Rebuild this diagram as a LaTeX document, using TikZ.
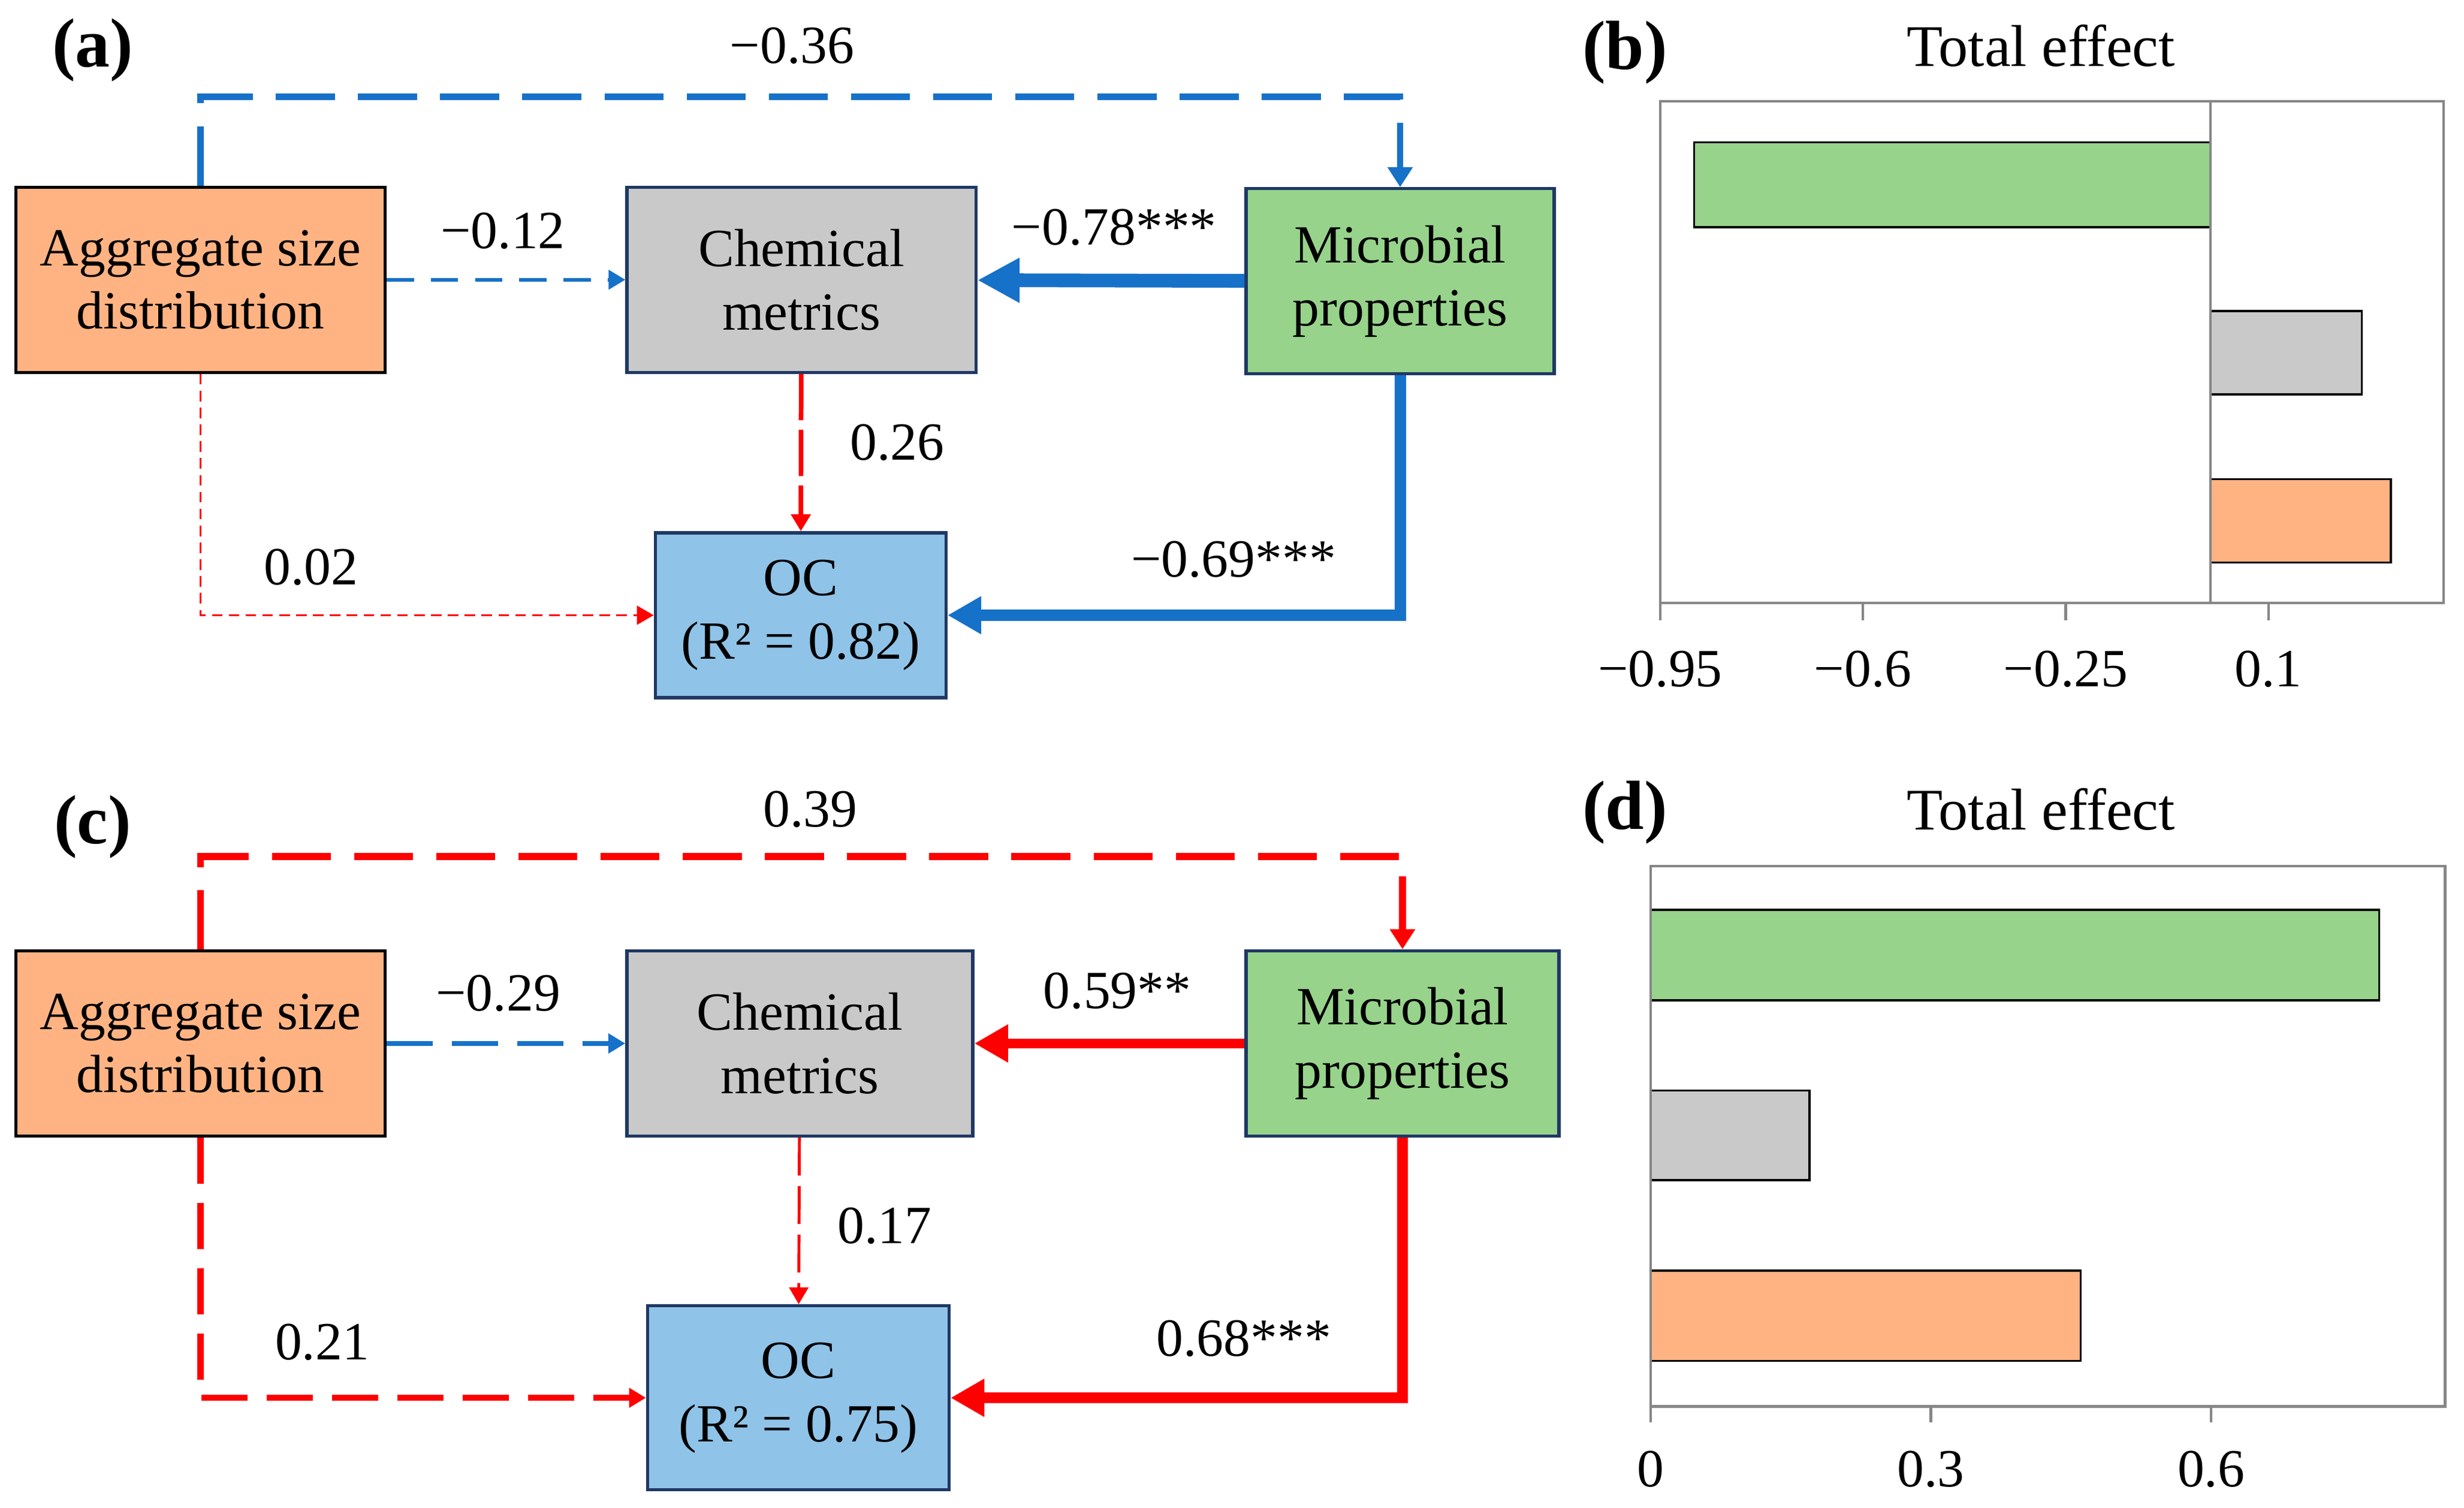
\documentclass[tikz,border=0pt]{standalone}
\usepackage{fontspec}
\setmainfont{Liberation Serif}
\usetikzlibrary{arrows.meta}
\definecolor{pathblue}{RGB}{22,113,200}
\definecolor{pathred}{RGB}{255,0,0}
\definecolor{aggfill}{RGB}{255,179,130}
\definecolor{chemfill}{RGB}{201,201,201}
\definecolor{micfill}{RGB}{151,211,139}
\definecolor{ocfill}{RGB}{143,195,232}
\definecolor{boxline}{RGB}{31,56,100}
\definecolor{framegray}{RGB}{134,134,134}
\begin{document}
\begin{tikzpicture}[x=0.02622cm, y=-0.02622cm,
    every node/.style={font=\fontsize{25.5}{30}\selectfont},
    box/.style={draw=boxline, line width=1.5pt, inner sep=0pt, align=center},
    panel/.style={font=\fontsize{33}{36}\selectfont\bfseries},
    title/.style={font=\fontsize{28}{32}\selectfont},
    longdash/.style={dash pattern=on 28pt off 11pt},
    middash/.style={dash pattern=on 22pt off 9pt},
    shortdash/.style={dash pattern=on 13pt off 8pt},
    tinydash/.style={dash pattern=on 5pt off 3pt},
    smalltip/.style={-{Triangle[length=8pt,width=9pt]}},
    toptip/.style={-{Triangle[length=9.5pt,width=11.5pt]}},
    bigtip/.style={-{Triangle[length=16pt,width=17pt]}},
    hugetip/.style={-{Triangle[length=20pt,width=20pt]}},
    bar/.style={draw=black, line width=1pt},
    axis/.style={draw=framegray, line width=1.2pt}]
    \useasboundingbox (0,0) rectangle (1568,959.3);

    % Panel (a): path model
    \node[panel] (pa) at (59,32) {(a)};
    \node[box, draw=black, fill=aggfill, minimum width=6.16cm, minimum height=3.09cm] (agga) at (127.5,178) {Aggregate size\\distribution};
    \node[box, fill=chemfill, minimum width=5.82cm, minimum height=3.09cm] (chema) at (510,178) {Chemical\\metrics};
    \node[box, fill=micfill, minimum width=5.14cm, minimum height=3.09cm] (mica) at (891,179) {Microbial\\properties};
    \node[box, fill=ocfill, minimum width=4.85cm, minimum height=2.75cm] (oca) at (509.5,391.5) {OC\\(R² = 0.82)};

    \coordinate (topa) at (510,61.5);
    \draw[pathblue, line width=3pt, longdash, toptip] (agga.north) |- (topa) -| (mica.north);
    \draw[pathblue, line width=1.8pt, shortdash, smalltip] (agga) -- (chema);
    \draw[pathblue, line width=6.5pt, hugetip] (mica) -- (chema);
    \draw[pathred, line width=2.2pt, dash pattern=on 22pt off 4.5pt, smalltip] (chema) -- (oca);
    \draw[pathred, line width=1pt, tinydash, smalltip] (agga.south) |- (oca.west);
    \draw[pathblue, line width=5.4pt, bigtip] (mica.south) |- (oca.east);

    % Path coefficients (a)
    \node (la1) at (504,29) {−0.36};
    \node (la2) at (320,147) {−0.12};
    \node (la3) at (709,144.5) {−0.78***};
    \node (la4) at (571,281.7) {0.26};
    \node (la5) at (198,361) {0.02};
    \node (la6) at (785,356) {−0.69***};

    % Panel (b): total effects
    \node[panel] (pb) at (1034,33.5) {(b)};
    \node[title] (tb) at (1298.7,29) {Total effect};
    \draw[bar, fill=micfill] (1406.7,90.5) rectangle (1078,144.6);
    \draw[bar, fill=chemfill] (1406.7,198) rectangle (1503,251);
    \draw[bar, fill=aggfill] (1406.7,305) rectangle (1521.5,358);
    \draw[axis] (1056.5,64.5) rectangle (1555,383.7);
    \draw[axis] (1406.7,64.5) -- (1406.7,383.7);
    \foreach \v/\t [count=\i] in {-0.95/−0.95, -0.6/−0.6, -0.25/−0.25, 0.1/0.1} {
        \draw[axis] ({1406.7+368.6*\v},383.7) -- ++(0,11);
        \node (xb\i) at ({1406.7+368.6*\v},425.6) {\t};
    }

    % Panel (c): path model
    \node[panel] (pc) at (59,526) {(c)};
    \node[box, draw=black, fill=aggfill, minimum width=6.16cm, minimum height=3.09cm] (aggc) at (127.5,664) {Aggregate size\\distribution};
    \node[box, fill=chemfill, minimum width=5.77cm, minimum height=3.09cm] (chemc) at (509,664) {Chemical\\metrics};
    \node[box, fill=micfill, minimum width=5.22cm, minimum height=3.09cm] (micc) at (892.5,664) {Microbial\\properties};
    \node[box, fill=ocfill, minimum width=5.03cm, minimum height=3.07cm] (occ) at (508,889.5) {OC\\(R² = 0.75)};

    \coordinate (topc) at (510,545);
    \draw[pathred, line width=3.2pt, longdash, toptip] (aggc.north) |- (topc) -| (micc.north);
    \draw[pathblue, line width=2.5pt, middash, smalltip] (aggc) -- (chemc);
    \draw[pathred, line width=4.6pt, bigtip] (micc) -- (chemc);
    \draw[pathred, line width=1.4pt, dash pattern=on 18pt off 5pt, smalltip] (chemc) -- (occ);
    \draw[pathred, line width=3pt, middash, smalltip] (aggc.south) |- (occ.west);
    \draw[pathred, line width=5pt, bigtip] (micc.south) |- (occ.east);

    % Path coefficients (c)
    \node (lc1) at (515.6,515) {0.39};
    \node (lc2) at (317,632) {−0.29};
    \node (lc3) at (711,630.7) {0.59**};
    \node (lc4) at (563,780) {0.17};
    \node (lc5) at (205,854) {0.21};
    \node (lc6) at (791.5,852) {0.68***};

    % Panel (d): total effects
    \node[panel] (pd) at (1034,517) {(d)};
    \node[title] (td) at (1298.7,515) {Total effect};
    \draw[bar, fill=micfill] (1050.4,579) rectangle (1514,636.6);
    \draw[bar, fill=chemfill] (1050.4,694) rectangle (1151.5,751);
    \draw[bar, fill=aggfill] (1050.4,808.6) rectangle (1324,866);
    \draw[axis] (1050.4,551) rectangle (1556,895);
    \foreach \v [count=\i] in {0,0.3,0.6} {
        \draw[axis] ({1050.4+594.4*\v},895) -- ++(0,10);
        \node (xd\i) at ({1050.4+594.4*\v},935) {\v};
    }
\end{tikzpicture}
\end{document}
